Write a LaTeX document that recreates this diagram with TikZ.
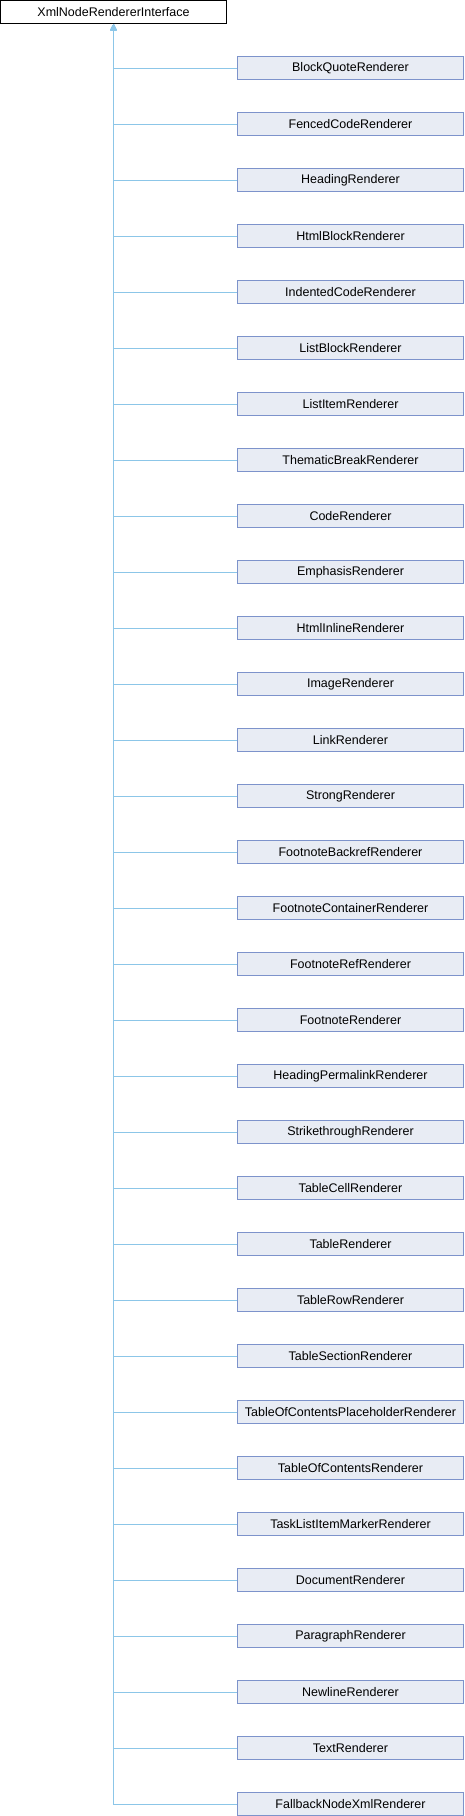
\documentclass[tikz,border=0pt]{standalone}
\usepackage{fontspec}
\setmainfont{Liberation Sans}
\usetikzlibrary{arrows.meta}
\definecolor{edgec}{HTML}{8CC6E8}
\definecolor{boxfill}{HTML}{E8ECF4}
\definecolor{boxdraw}{HTML}{7D93CB}
\tikzset{
  base/.style={draw=black, fill=white, line width=1pt, minimum width=226pt, minimum height=23pt, inner sep=0pt, font=\fontsize{12.5pt}{14pt}\selectfont},
  child/.style={draw=boxdraw, fill=boxfill, line width=1pt, minimum width=226pt, minimum height=23pt, inner sep=0pt, font=\fontsize{12.5pt}{14pt}\selectfont},
  edge/.style={draw=edgec, line width=1pt, {Triangle[width=6pt,length=6pt]}-}
}
\begin{document}
\begin{tikzpicture}[x=1pt,y=-1pt]
\useasboundingbox (0,0) rectangle (464,1816);
\node[base] (p) at (113.5,12) {XmlNodeRendererInterface};
\foreach \n [count=\i] in {BlockQuoteRenderer,FencedCodeRenderer,HeadingRenderer,HtmlBlockRenderer,IndentedCodeRenderer,ListBlockRenderer,ListItemRenderer,ThematicBreakRenderer,CodeRenderer,EmphasisRenderer,HtmlInlineRenderer,ImageRenderer,LinkRenderer,StrongRenderer,FootnoteBackrefRenderer,FootnoteContainerRenderer,FootnoteRefRenderer,FootnoteRenderer,HeadingPermalinkRenderer,StrikethroughRenderer,TableCellRenderer,TableRenderer,TableRowRenderer,TableSectionRenderer,TableOfContentsPlaceholderRenderer,TableOfContentsRenderer,TaskListItemMarkerRenderer,DocumentRenderer,ParagraphRenderer,NewlineRenderer,TextRenderer,FallbackNodeXmlRenderer}{
  \node[child] (c\i) at (350.5,56*\i+12) {\n};
  \draw[edge] (p.south) |- (c\i.west);
}
\end{tikzpicture}
\end{document}
